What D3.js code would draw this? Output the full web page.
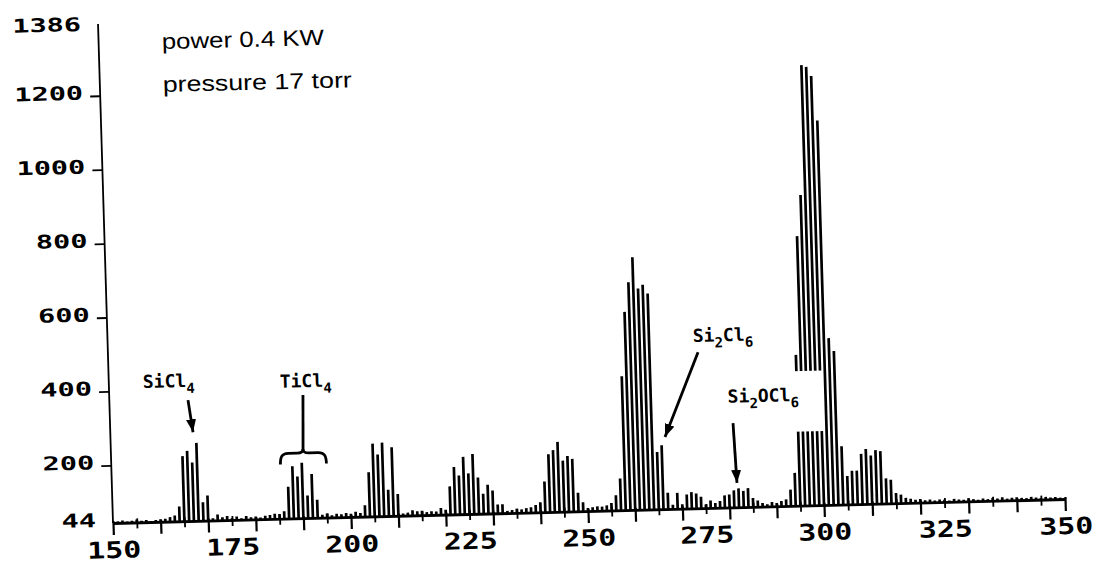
<!DOCTYPE html>
<html><head><meta charset="utf-8">
<script src="https://cdn.jsdelivr.net/npm/d3@7"></script>
<style>
html,body{margin:0;padding:0;background:#fff;}
svg{display:block;}
</style></head>
<body>
<svg id="chart" width="1096" height="564"></svg>
<script>
// ---- data ----
const massStart = 150;
const intensity = [
  44,
  48,50,47,49,52,48,50,47,49,51,
  52,56,60,84,220,234,202,255,94,112,
  50,60,52,55,49,53,48,54,50,52,
  49,53,55,58,57,64,130,185,157,194,
  105,163,93,52,55,50,54,52,55,53,
  58,54,75,164,241,211,243,115,230,103,
  50,52,58,55,56,52,54,53,62,57,
  120,172,149,199,154,206,142,98,122,106,
  68,68,50,52,55,53,56,58,64,71,
  127,200,211,233,182,194,186,94,68,52,
  54,56,55,58,64,85,130,406,580,660,
  727,642,652,628,199,217,88,55,87,56,
  82,88,84,75,54,64,57,62,77,79,
  90,95,88,95,68,61,54,50,56,53,
  58,62,88,133,452,773,884,1235,1230,1205,
  1084,495,460,202,121,135,135,180,193,175,
  189,186,112,108,72,67,58,55,52,54,
  50,52,49,51,50,48,52,50,49,53,
  50,48,51,49,52,50,53,49,51,52,
  50,49,52,50,48,51,49,50,48,47
];
const xLabelTicks = [150,175,200,225,250,275,300,325,350];
const xMajorTicks = [150,160,170,180,190,200,210,220,230,240,250,260,270,280,290,300,310,320,330,340,350];
const xMinorTicks = [155,165,175,185,195,205,215,225,235,245,255,265,275,285,295,305,315,325,335,345];
const yTicks = [44,200,400,600,800,1000,1200,1386];
const infoLines = ["power 0.4 KW", "pressure 17 torr"];
const infoAnchor = [[163.27,1322],[163.21,1206]];
const species = [
  {parts:[["SiCl",0],["4",1]], at:[157.15,407]},
  {parts:[["TiCl",0],["4",1]], at:[185.9,398]},
  {parts:[["Si",0],["2",1],["Cl",0],["6",1]], at:[273.3,494]},
  {parts:[["Si",0],["2",1],["OCl",0],["6",1]], at:[280.3,327]}
];
const arrows = [
  {from:[166.52,371], to:[167.37,284]},
  {from:[274.3,466], to:[266.77,239]},
  {from:[281.26,272], to:[281.72,110]}
];
const braceStem = {from:[190.69,377], to:[190.35,228.4]};
const labelMask = {m0:278.8, m1:300.5, v0:244.4, v1:408};

// ---- scales ----
const x = d3.scaleLinear().domain([150,200,250,300,350]).range([113,351,588,824,1065]);
const y = d3.scaleLinear().domain([44,1386]).range([523,27]);

const svg = d3.select("#chart");
svg.append("rect").attr("width",1096).attr("height",564).attr("fill","#fff");
const defs = svg.append("defs");
defs.append("marker").attr("id","ah").attr("viewBox","0 0 13 10")
  .attr("refX",13).attr("refY",5).attr("markerWidth",13).attr("markerHeight",10)
  .attr("markerUnits","userSpaceOnUse").attr("orient","auto")
  .append("path").attr("d","M0,0 L13,5 L0,10 Z").attr("fill","#000");

// scanned page is slightly rotated/sheared
const g = svg.append("g").attr("transform","matrix(1,-0.0252,0.030,1,-15.69,2.848)");

// sticks
const data = intensity.map((v,i)=>({m:massStart+i, v}));
g.append("g").selectAll("line").data(data.filter(d=>d.v>44)).join("line")
  .attr("x1",d=>x(d.m)).attr("x2",d=>x(d.m))
  .attr("y1",y(44)).attr("y2",d=>y(d.v))
  .attr("stroke","#000").attr("stroke-width",2.7);

// x axis: major ticks
const gxMaj = g.append("g").attr("transform",`translate(0,${y(44)})`)
  .call(d3.axisBottom(x).tickValues(xMajorTicks).tickSize(12).tickSizeOuter(0).tickFormat(""));
gxMaj.select(".domain").attr("stroke","#000").attr("stroke-width",2.8);
gxMaj.selectAll(".tick line").attr("y1",-2).attr("stroke-width",2.2);
// minor ticks
const gxMin = g.append("g").attr("transform",`translate(0,${y(44)})`)
  .call(d3.axisBottom(x).tickValues(xMinorTicks).tickSize(6).tickFormat(""));
gxMin.select(".domain").remove();
gxMin.selectAll(".tick line").attr("y1",-4).attr("stroke-width",1.8);
// labels
const gxLab = g.append("g").attr("transform",`translate(0,${y(44)})`)
  .call(d3.axisBottom(x).tickValues(xLabelTicks).tickSize(0).tickFormat(d3.format("d")));
gxLab.select(".domain").remove();
gxLab.selectAll(".tick text").attr("y",35).attr("dy",0)
  .attr("font-family","DejaVu Sans Mono").attr("font-weight","bold").attr("font-size",23)
  .attr("fill","#000").attr("textLength",54).attr("lengthAdjust","spacingAndGlyphs");

// y axis
const gy = g.append("g").attr("transform",`translate(${x(150)},0)`)
  .call(d3.axisLeft(y).tickValues(yTicks).tickSize(10).tickPadding(8).tickFormat(d3.format("d")));
gy.select(".domain").remove();
gy.selectAll(".tick line").attr("stroke-width",1.8)
  .filter(d=>d===44||d===1386).remove();
gy.selectAll(".tick text").attr("x",-17).attr("dy",3)
  .attr("font-family","DejaVu Sans Mono").attr("font-weight","bold").attr("font-size",19)
  .attr("fill","#000")
  .attr("textLength",d=>String(d).length*17.2).attr("lengthAdjust","spacingAndGlyphs");
g.append("line").attr("x1",x(150)).attr("x2",x(150)).attr("y1",y(44)).attr("y2",24)
  .attr("stroke","#000").attr("stroke-width",1.8);

// white patch behind the Si2OCl6 label
g.append("rect").attr("x",x(labelMask.m0)).attr("width",x(labelMask.m1)-x(labelMask.m0))
  .attr("y",y(labelMask.v1)).attr("height",y(labelMask.v0)-y(labelMask.v1)).attr("fill","#fff");

// info text
g.append("g").selectAll("text").data(infoLines).join("text")
  .attr("x",(d,i)=>x(infoAnchor[i][0])).attr("y",(d,i)=>y(infoAnchor[i][1]))
  .attr("font-family","Liberation Sans, Arial, sans-serif").attr("font-size",22)
  .attr("fill","#000")
  .attr("textLength",(d,i)=>i===0?162:189).attr("lengthAdjust","spacingAndGlyphs")
  .text(d=>d);

// species labels
species.forEach(s=>{
  const t = g.append("text").attr("x",x(s.at[0])).attr("y",y(s.at[1]))
    .attr("font-family","DejaVu Sans Mono").attr("font-weight","bold").attr("fill","#000");
  let prevSub = 0;
  s.parts.forEach(([txt,sub])=>{
    const ts = t.append("tspan").text(txt).attr("font-size",sub?14:18);
    const shift = (sub?6:0)-(prevSub?6:0);
    if(shift) ts.attr("dy",shift);
    prevSub = sub;
  });
});

// arrows
g.append("g").selectAll("line").data(arrows).join("line")
  .attr("x1",d=>x(d.from[0])).attr("y1",d=>y(d.from[1]))
  .attr("x2",d=>x(d.to[0])).attr("y2",d=>y(d.to[1]))
  .attr("stroke","#000").attr("stroke-width",2.8).attr("marker-end","url(#ah)");

// TiCl4 stem + brace
g.append("line").attr("x1",x(braceStem.from[0])).attr("y1",y(braceStem.from[1]))
  .attr("x2",x(braceStem.to[0])).attr("y2",y(braceStem.to[1]))
  .attr("stroke","#000").attr("stroke-width",2.8);
g.append("path").attr("transform",`translate(${x(braceStem.to[0])},${y(braceStem.to[1])})`)
  .attr("d","M-23,14 C-23,6 -21,3 -15,3 L-6,3 C-2,3 0,2 0,-1 C0,2 2,3 6,3 L15,3 C21,3 23,6 23,14")
  .attr("fill","none").attr("stroke","#000").attr("stroke-width",2.8);
</script>
</body></html>
